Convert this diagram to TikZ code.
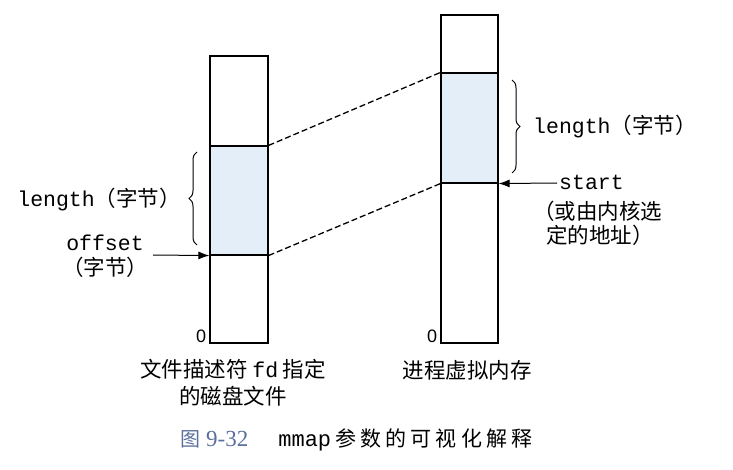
\documentclass[tikz,border=0pt]{standalone}
\usepackage{fontspec}
\setmainfont{Liberation Serif}
\newfontfamily\cjk{Noto Sans CJK SC}
\newfontfamily\cjkwide{Noto Sans CJK SC}[LetterSpace=20]
\newfontfamily\mono{Liberation Mono}
\newfontfamily\numfont{Liberation Sans}
\usetikzlibrary{decorations.pathreplacing,arrows.meta}
\definecolor{memblue}{HTML}{E4EEF9}
\definecolor{capblue}{HTML}{5B6F9C}
\begin{document}
\begin{tikzpicture}[x=1pt,y=-1pt,
  col/.style={draw=black,line width=1.2pt,inner sep=0pt,fill=white},
  region/.style={draw=black,line width=1.1pt,inner sep=0pt,fill=memblue},
  map/.style={line width=1.3pt,dash pattern=on 6pt off 3pt},
  brc/.style={decorate,decoration={brace,amplitude=8pt},line width=1pt},
  ptr/.style={-{Latex[length=11pt,width=8pt]},line width=1pt},
  lbl/.style={inner sep=0pt,font=\fontsize{21.5}{25}\selectfont},
  txt/.style={inner sep=0pt,font=\cjk\fontsize{21.5}{27}\selectfont,align=center}]
\useasboundingbox (0,0) rectangle (733,470);
% columns
\node[col,minimum width=58pt,minimum height=287pt] (colL) at (239,199.5) {};
\node[region,minimum width=58pt,minimum height=109pt] (blkL) at (239,200.5) {};
\node[col,minimum width=57pt,minimum height=328pt] (colR) at (469.5,179) {};
\node[region,minimum width=57pt,minimum height=110pt] (blkR) at (469.5,128) {};
% mapping lines
\draw[map] (blkL.north east) -- (blkR.north west);
\draw[map] (blkL.south east) -- (blkR.south west);
% zeros
\node[lbl,font=\numfont\fontsize{18}{20}\selectfont,anchor=south east] (zL) at ([xshift=-3pt,yshift=1pt]colL.south west) {0};
\node[lbl,font=\numfont\fontsize{18}{20}\selectfont,anchor=south east] (zR) at ([xshift=-3pt,yshift=1pt]colR.south west) {0};
% left annotations
\coordinate (bLb) at (197,245);
\coordinate (bLt) at (197,152);
\draw[brc] (bLb) -- (bLt);
\node[lbl,anchor=east] (lenL) at (181,200) {\mono length\cjk （字节）};
\node[lbl,anchor=center] (offL) at (105,243) {\mono offset};
\node[lbl,anchor=center] (offU) at (105,267) {\cjk （字节）};
\coordinate (offS) at (153,255);
\draw[ptr] (offS) -- (blkL.south west);
% right annotations
\coordinate (bRt) at (512,80);
\coordinate (bRb) at (512,173);
\draw[brc] (bRt) -- (bRb);
\node[lbl,anchor=west] (lenR) at (533,127) {\mono length\cjk （字节）};
\node[lbl,anchor=west] (stR) at (559,182) {\mono start};
\coordinate (stS) at (557,183);
\draw[ptr] (stS) -- (blkR.south east);
\node[txt,anchor=west] (stN1) at (533,211) {（或由内核选};
\node[txt,anchor=west] (stN2) at (546,235) {定的地址）};
% bottom labels
\node[txt] (capL) at (233,383) {文件描述符 {\mono fd} 指定\\的磁盘文件};
\node[txt] (capR) at (467,370) {进程虚拟内存};
% caption
\node[lbl,anchor=west] (fig) at (180,440) {{\cjk\fontsize{20}{24}\selectfont\color{capblue}图}\hspace{6pt}{\fontsize{23}{25}\selectfont\color{capblue}9-32}\hspace{30pt}{\mono\fontsize{22}{25}\selectfont mmap}\hspace{4pt}{\cjkwide\fontsize{21}{25}\selectfont 参数的可视化解释}};
\end{tikzpicture}
\end{document}
